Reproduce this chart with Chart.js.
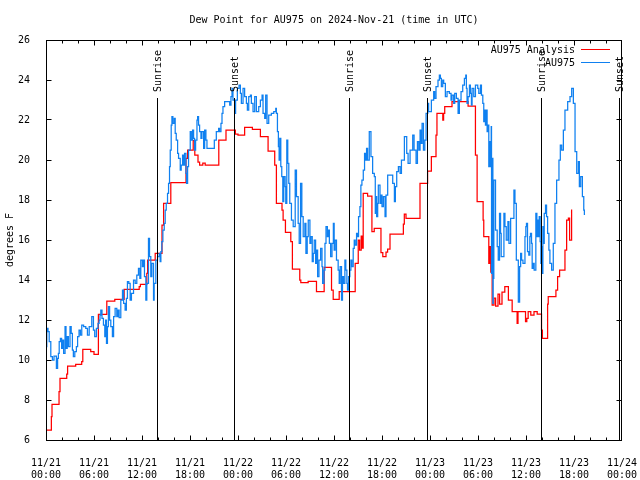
<!DOCTYPE html>
<html><head><meta charset="utf-8">
<script src="https://cdn.jsdelivr.net/npm/chart.js@4/dist/chart.umd.min.js"></script>
<style>html,body{margin:0;padding:0;background:#fff}canvas{display:block}</style>
</head><body>
<canvas id="c" width="640" height="480"></canvas>
<script>
// ---- data (hours since 2024-11-21 00:00 UTC, dew point in degrees F) ----
const chartTitle = 'Dew Point for AU975 on 2024-Nov-21 (time in UTC)';
const yAxisTitle = 'degrees F';
const seriesNames = ['AU975 Analysis', 'AU975'];
const xTickDays = ['11/21','11/21','11/21','11/21','11/22','11/22','11/22','11/22','11/23','11/23','11/23','11/23','11/24'];
const xTickTimes = ['00:00','06:00','12:00','18:00','00:00','06:00','12:00','18:00','00:00','06:00','12:00','18:00','00:00'];
const yTickValues = [6,8,10,12,14,16,18,20,22,24,26];
const sunEventHours = [13.94, 23.58, 37.94, 47.65, 61.98, 71.65];
const sunEventLabels = ['Sunrise','Sunset','Sunrise','Sunset','Sunrise','Sunset'];

const analysisPoints = [
[0,6.5],[0.67,7.17],[0.75,7.78],[1.63,8.42],[1.75,9.08],[2.59,9.3],[2.7,9.7],[3.71,9.78],[4.46,9.92],[4.6,10.53],
[5.59,10.42],[6.0,10.28],[6.55,12.28],[7.6,12.95],[8.6,13.03],[9.77,13.53],[11.65,13.67],[11.8,13.78],[12.6,14.33],[12.7,15.0],
[13.65,15.33],[14.5,16.75],[14.7,17.83],[15.6,18.87],[17.5,20.08],[17.7,20.5],[18.4,20.97],[18.6,20.25],[19.0,19.9],[19.2,19.75],
[19.6,19.85],[19.9,19.75],[21.6,21.0],[22.5,21.5],[23.67,21.3],[24.0,21.25],[24.83,21.63],[25.8,21.53],[26.8,21.17],[27.76,20.45],
[28.59,19.75],[28.8,17.83],[29.5,17.5],[29.64,17.0],[29.93,16.38],[30.6,15.92],[30.8,14.55],[31.72,14.0],[31.85,13.87],[32.77,13.93],
[33.81,13.42],[34.77,14.63],[35.69,13.5],[35.9,13.03],[36.65,13.42],[38.65,14.83],[39.03,16.0],[39.2,15.5],[39.4,16.2],[39.5,15.6],
[39.65,18.33],[40.2,18.2],[40.74,16.42],[41.03,16.58],[41.87,15.37],[42.1,15.17],[42.5,15.4],[42.7,15.55],[43.0,16.3],[44.67,16.8],
[44.79,17.3],[45.0,17.08],[46.75,18.83],[47.7,19.45],[48.17,20.17],[48.75,21.25],[48.87,22.33],[49.6,22.0],[49.7,22.33],[49.84,22.67],
[50.75,22.92],[52.76,22.7],[53.68,20.25],[53.89,17.92],[54.64,17.0],[54.72,16.17],[55.35,14.83],[55.45,15.67],[55.6,14.4],[55.77,12.75],
[56.0,13.1],[56.2,12.7],[56.5,13.3],[56.7,12.8],[57.0,13.4],[57.35,13.67],[57.8,13.0],[58.27,12.42],[58.89,11.83],[59.0,12.42],
[59.94,11.92],[60.1,12.08],[60.27,12.42],[60.6,12.25],[61.0,12.42],[61.4,12.3],[61.94,11.5],[62.05,11.08],[62.7,12.8],[62.78,13.17],
[63.74,13.5],[63.95,14.17],[64.2,14.5],[64.87,15.5],[65.08,17.0],[65.3,17.1],[65.45,16.0],[65.7,17.53]
];

const stationPoints = [
[0.0,10.67],[0.1,11.58],[0.25,11.42],[0.4,10.92],[0.6,10.17],[0.8,10.0],[1.0,10.2],[1.3,9.58],[1.45,10.08],[1.55,10.33],
[1.65,10.92],[1.8,11.08],[1.95,10.58],[2.05,11.0],[2.2,10.33],[2.38,11.67],[2.5,10.58],[2.65,11.17],[2.8,10.67],[3.0,11.67],
[3.15,11.33],[3.3,10.5],[3.42,10.17],[3.6,10.42],[3.8,10.67],[3.95,11.17],[4.13,11.5],[4.3,11.25],[4.47,11.75],[4.7,11.67],
[4.97,11.58],[5.18,11.25],[5.4,11.67],[5.72,12.17],[5.93,11.5],[6.09,11.17],[6.3,11.58],[6.5,11.83],[6.64,12.0],[6.75,12.25],
[6.85,12.5],[7.0,12.08],[7.18,11.75],[7.35,11.17],[7.45,12.0],[7.56,10.83],[7.68,11.67],[7.8,12.67],[7.95,12.0],[8.1,11.67],
[8.3,11.17],[8.45,12.17],[8.64,12.58],[8.85,12.17],[9.0,12.5],[9.14,12.12],[9.35,13.0],[9.56,13.5],[9.7,12.83],[9.89,12.5],
[10.05,13.08],[10.18,13.92],[10.35,13.83],[10.52,13.0],[10.68,13.33],[10.94,14.0],[11.15,13.83],[11.35,14.25],[11.56,14.58],[11.73,14.08],
[11.85,15.0],[12.05,14.67],[12.19,15.0],[12.31,14.17],[12.48,13.0],[12.6,13.83],[12.81,16.08],[12.94,15.17],[13.1,14.17],[13.23,14.83],
[13.44,13.0],[13.52,13.83],[13.73,15.0],[13.94,15.17],[14.15,15.33],[14.27,14.92],[14.36,15.42],[14.48,15.92],[14.61,16.5],[14.78,16.83],
[14.9,17.5],[15.03,17.83],[15.19,18.33],[15.32,18.83],[15.44,19.67],[15.53,20.5],[15.65,21.75],[15.74,22.17],[15.86,21.83],[16.03,22.08],
[16.15,21.33],[16.28,21.0],[16.45,20.33],[16.57,20.08],[16.78,19.5],[16.9,19.75],[17.07,20.25],[17.2,19.75],[17.32,20.33],[17.49,19.33],
[17.57,18.83],[17.7,19.67],[17.82,20.5],[18.03,21.42],[18.16,21.0],[18.32,21.5],[18.45,21.08],[18.57,20.5],[18.7,21.0],[18.87,22.0],
[18.95,22.17],[19.07,21.75],[19.2,21.42],[19.37,21.08],[19.49,21.42],[19.7,20.58],[19.83,21.5],[19.99,21.0],[20.12,20.58],[21.04,21.0],
[21.29,21.42],[21.58,21.58],[21.7,21.42],[21.87,21.83],[22.0,22.33],[22.12,22.67],[22.33,22.92],[22.96,22.75],[23.12,23.17],[23.25,23.58],
[23.37,23.0],[23.58,22.33],[23.7,23.0],[23.92,23.58],[24.13,23.75],[24.3,23.33],[24.42,22.83],[24.63,23.58],[24.83,23.17],[25.05,22.83],
[25.17,22.5],[25.34,23.17],[25.55,23.25],[25.67,22.83],[25.88,22.42],[26.09,23.17],[26.3,22.42],[26.59,22.67],[26.8,23.0],[27.01,23.25],
[27.13,22.33],[27.34,22.08],[27.46,23.25],[27.63,21.83],[27.84,22.25],[28.17,22.33],[28.47,22.42],[28.72,22.58],[28.8,22.33],[28.93,21.42],
[29.05,20.67],[29.14,20.0],[29.22,21.08],[29.35,19.67],[29.47,19.17],[29.6,17.92],[29.72,19.17],[29.89,18.67],[29.97,17.83],[30.1,21.0],
[30.22,19.83],[30.35,18.83],[30.47,17.83],[30.68,17.0],[30.9,16.67],[31.15,19.5],[31.31,18.17],[31.52,16.83],[31.65,15.83],[31.82,18.83],
[31.98,17.17],[32.15,16.17],[32.36,16.83],[32.49,15.33],[32.65,16.17],[32.78,17.0],[32.99,15.83],[33.11,16.17],[33.28,14.92],[33.41,15.33],
[33.53,16.0],[33.7,14.83],[33.82,15.5],[33.95,14.17],[34.12,15.0],[34.33,15.58],[34.5,14.67],[34.58,13.83],[34.75,14.5],[34.87,15.83],
[35.0,16.67],[35.17,16.17],[35.29,16.5],[35.42,15.83],[35.58,15.17],[35.75,15.83],[35.92,16.83],[36.02,15.5],[36.14,16.0],[36.31,15.0],
[36.52,14.5],[36.65,13.83],[36.77,14.67],[36.94,13.0],[37.06,14.17],[37.19,13.83],[37.36,15.0],[37.48,14.5],[37.61,13.83],[37.69,13.5],
[37.82,14.17],[37.98,14.5],[38.11,15.0],[38.23,14.67],[38.4,15.58],[38.53,16.0],[38.65,15.75],[38.82,16.33],[38.94,16.17],[39.07,17.17],
[39.24,17.67],[39.36,18.75],[39.49,19.0],[39.66,19.5],[39.82,20.33],[39.95,20.0],[40.07,20.58],[40.2,20.0],[40.41,21.42],[40.62,20.17],
[40.83,19.33],[41.04,19.17],[41.16,17.33],[41.25,18.17],[41.33,17.17],[41.46,17.83],[41.54,18.75],[41.75,17.83],[41.88,18.25],[42.0,17.67],
[42.17,18.17],[42.38,17.17],[42.5,18.25],[42.71,19.25],[43.34,18.83],[43.55,17.92],[43.67,18.67],[43.84,19.42],[44.05,19.67],[44.26,19.33],
[44.43,20.0],[44.8,21.17],[45.09,20.33],[45.26,19.83],[45.51,20.5],[45.84,21.25],[46.01,20.5],[46.26,19.83],[46.43,20.92],[46.6,20.5],
[46.76,21.5],[46.89,20.83],[47.01,21.83],[47.18,20.5],[47.35,21.0],[47.51,22.33],[47.72,22.83],[47.83,22.42],[48.17,23.0],[48.46,23.42],
[48.58,23.08],[48.75,23.67],[49.0,24.0],[49.17,24.25],[49.3,24.08],[49.42,23.67],[49.59,24.0],[49.71,23.83],[49.92,23.17],[50.13,23.42],
[50.42,23.33],[50.63,23.0],[50.75,23.25],[50.96,22.83],[51.09,23.33],[51.3,23.08],[51.51,22.33],[51.67,23.0],[51.88,23.42],[52.09,23.75],
[52.3,24.08],[52.47,24.25],[52.55,23.58],[52.63,22.83],[52.76,23.17],[52.93,23.75],[53.05,23.33],[53.18,22.75],[53.26,23.58],[53.47,23.17],
[53.68,23.75],[53.97,23.58],[54.1,23.33],[54.31,23.75],[54.43,23.25],[54.6,22.83],[54.72,21.92],[54.85,22.5],[54.93,21.75],[55.02,22.5],
[55.14,21.42],[55.27,21.75],[55.35,19.67],[55.44,20.92],[55.56,19.67],[55.65,21.67],[55.69,14.33],[55.77,20.08],[55.86,12.83],[55.9,14.08],
[55.98,19.0],[56.19,16.5],[56.4,15.67],[56.53,15.0],[56.69,17.33],[56.82,16.33],[56.9,15.17],[57.24,17.33],[57.37,16.67],[57.53,16.0],
[57.74,16.92],[57.87,15.83],[58.08,17.08],[58.49,18.5],[58.62,17.83],[58.79,15.0],[59.04,12.9],[59.2,14.67],[59.33,15.33],[59.45,15.0],
[59.62,14.83],[59.87,16.17],[59.98,16.67],[60.06,16.83],[60.19,15.42],[60.35,15.25],[60.48,16.17],[60.56,16.33],[60.69,15.83],[60.77,14.58],
[60.9,14.83],[61.02,14.5],[61.23,17.33],[61.36,16.17],[61.44,17.0],[61.52,16.17],[61.65,17.17],[61.77,15.92],[61.86,14.83],[61.94,15.67],
[62.02,14.33],[62.11,16.67],[62.15,15.83],[62.28,17.33],[62.44,17.75],[62.57,17.17],[62.7,16.33],[62.86,15.5],[62.99,14.83],[63.2,14.5],
[63.41,15.83],[63.62,17.83],[63.83,19.0],[64.12,20.0],[64.29,20.75],[64.46,20.5],[64.67,21.5],[64.87,22.5],[65.21,22.92],[65.5,23.17],
[65.71,23.58],[65.92,22.83],[66.13,20.42],[66.34,19.33],[66.55,19.92],[66.67,18.67],[66.84,19.17],[67.05,18.17],[67.22,17.5],[67.3,17.25]
];

// ---- styling ----
const RED = '#ff0000';
const BLUE = '#0f80f0';
const FONT_FAMILY = "'DejaVu Sans Mono', 'Liberation Mono', monospace";
const FONT = {family: FONT_FAMILY, size: 10};

const framePlugin = {
  id: 'gnuplotFrame',
  afterDraw(chart) {
    const ctx = chart.ctx;
    const a = chart.chartArea;
    const xs = chart.scales.x, ys = chart.scales.y;
    ctx.save();
    ctx.strokeStyle = '#000';
    ctx.lineWidth = 1;
    const px = v => Math.floor(v) + 0.5;
    const L = px(a.left), R = px(a.right - 0.5), T = px(a.top), B = px(a.bottom);

    // inward ticks
    ctx.beginPath();
    for (let h = xs.min; h <= xs.max; h += 2) {
      const x = Math.min(px(xs.getPixelForValue(h)), R);
      const len = (h % 6 === 0) ? 5 : 3;
      ctx.moveTo(x, B); ctx.lineTo(x, B - len);
      ctx.moveTo(x, T); ctx.lineTo(x, T + len);
    }
    yTickValues.forEach(v => {
      const y = Math.min(px(ys.getPixelForValue(v)), B);
      ctx.moveTo(L, y); ctx.lineTo(L + 5, y);
      ctx.moveTo(R, y); ctx.lineTo(R - 5, y);
    });
    ctx.stroke();

    // sunrise / sunset markers
    ctx.font = `10px ${FONT_FAMILY}`;
    ctx.fillStyle = '#000';
    sunEventHours.forEach((h, i) => {
      const x = px(xs.getPixelForValue(h));
      ctx.beginPath();
      ctx.moveTo(x, B);
      ctx.lineTo(x, a.top + 58);
      ctx.stroke();
      ctx.save();
      ctx.translate(x + 1, a.top + 52);
      ctx.rotate(-Math.PI / 2);
      ctx.textAlign = 'left';
      ctx.textBaseline = 'middle';
      ctx.fillText(sunEventLabels[i], 0, 0);
      ctx.restore();
    });

    // frame
    ctx.strokeRect(L, T, R - L, B - T);

    // legend (gnuplot style, inside top-right)
    ctx.textAlign = 'right';
    ctx.textBaseline = 'middle';
    const legendColors = [RED, BLUE];
    seriesNames.forEach((name, i) => {
      const y = a.top + 9 + i * 13;
      ctx.fillStyle = '#000';
      ctx.fillText(name, a.right - 47, y + 1);
      ctx.strokeStyle = legendColors[i];
      ctx.beginPath();
      ctx.moveTo(a.right - 41, px(y));
      ctx.lineTo(a.right - 12, px(y));
      ctx.stroke();
    });

    // title centred on the plot area
    ctx.fillStyle = '#000';
    ctx.textAlign = 'center';
    ctx.textBaseline = 'middle';
    ctx.fillText(chartTitle, (a.left + a.right) / 2, 20);
    ctx.restore();
  }
};

new Chart(document.getElementById('c').getContext('2d'), {
  type: 'line',
  data: {
    datasets: [
      {label: seriesNames[1], data: stationPoints.map(p => ({x: p[0], y: p[1]})),
       borderColor: BLUE, borderWidth: 1.25, pointRadius: 0, stepped: true, fill: false, order: 0},
      {label: seriesNames[0], data: analysisPoints.map(p => ({x: p[0], y: p[1]})),
       borderColor: RED, borderWidth: 1.25, pointRadius: 0, stepped: true, fill: false, order: 1}
    ]
  },
  options: {
    responsive: false,
    animation: false,
    layout: {padding: {top: 40, right: 18, left: 0, bottom: 0}},
    plugins: {legend: {display: false}, title: {display: false}, tooltip: {enabled: false}},
    scales: {
      x: {
        type: 'linear', min: 0, max: 72,
        afterBuildTicks: s => { s.ticks = xTickDays.map((d, i) => ({value: i * 6})); },
        ticks: {autoSkip: false, maxRotation: 0, padding: 9, font: FONT, color: '#000',
                callback: (v, i) => [xTickDays[i], xTickTimes[i]]},
        grid: {display: false}, border: {display: false},
        afterFit: s => { s.height = 40; s.paddingLeft = 0; s.paddingRight = 0; }
      },
      y: {
        min: 6, max: 26,
        afterBuildTicks: s => { s.ticks = yTickValues.map(v => ({value: v})); },
        ticks: {font: FONT, color: '#000', padding: 8},
        grid: {display: false}, border: {display: false},
        title: {display: true, text: yAxisTitle, font: FONT, color: '#000', padding: {top: 4, bottom: 0}},
        afterFit: s => { s.width = 46; s.paddingTop = 0; s.paddingBottom = 0; }
      }
    }
  },
  plugins: [framePlugin]
});
</script>
</body></html>
